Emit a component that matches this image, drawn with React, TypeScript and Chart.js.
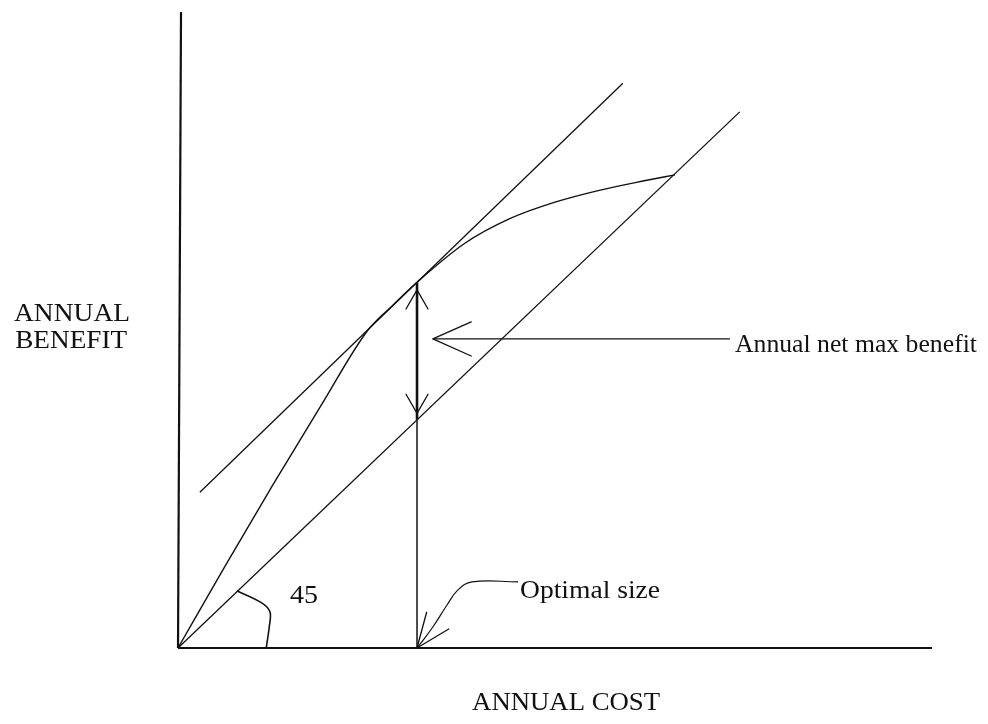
import { useEffect, useRef } from "react";
import { Chart, registerables } from "chart.js";

Chart.register(...registerables);

// ---- data (chart units: cost 0..100 on x, benefit 0..100 on y) ----
const benefitCurveCost = [0, 6.3, 12.6, 18.9, 25.2, 28.5, 31.7, 38, 44, 50, 56, 62, 65.9];
const benefitCurveBenefit = [0, 13.0, 25.7, 38.0, 50.0, 53.9, 57.5, 63.6, 67.5, 70.1, 72.0, 73.5, 74.4];

const diagonalCost = [0, 74.5];
const diagonalBenefit = [0, 84.3];

const tangentCost = [2.9, 59.0];
const tangentBenefit = [24.5, 88.8];

const optimalCost = 31.7;
const maxBenefitAtOptimum = 57.5;
const costLineAtOptimum = 35.9;

const yAxisCost = [0, 0.4];
const yAxisBenefit = [0, 100];
const xAxisCost = [0, 100];
const xAxisBenefit = [0, 0];

const netArrowCost = [33.8, 73.2];
const netArrowBenefit = [48.6, 48.6];
const netArrowHeadsBenefit = [56.3, 36.9];

const leaderCost = [45.1, 39.0, 37.1, 35.7, 33.8, 32.1, 31.7];
const leaderBenefit = [10.4, 10.4, 9.1, 6.8, 3.3, 0.6, 0];

const angleArcCost = [7.8, 11.1, 12.2, 12.1, 11.7];
const angleArcBenefit = [9.0, 7.1, 5.66, 3.3, 0];

const labelTexts = ["Annual net max benefit", "Optimal size", "45", "ANNUAL", "BENEFIT", "ANNUAL COST"];
const labelCost = [73.87, 45.36, 14.85, -21.75, -21.6, 39.0];
const labelBenefit = [46.54, 7.86, 7.08, 51.4, 47.2, -9.75];

// ---- layout / style (not data) ----
const W = 988;
const H = 724;
const labelWidths = [242, 140, 28, 116, 112, 188];
const FONT = '25px "Liberation Serif", "Times New Roman", serif';

const pts = (xs: number[], ys: number[]) => xs.map((x, i) => ({ x, y: ys[i] }));

const lineDs = (data: { x: number; y: number }[], width: number, extra: any = {}) => ({
  data,
  showLine: true,
  borderColor: "#111",
  backgroundColor: "#111",
  borderWidth: width,
  pointRadius: 0,
  pointHoverRadius: 0,
  fill: false,
  clip: false,
  ...extra,
});

const annotationPlugin = {
  id: "annotations",
  beforeDraw(chart: any) {
    const ctx = chart.ctx;
    ctx.save();
    ctx.fillStyle = "#fff";
    ctx.fillRect(0, 0, chart.width, chart.height);
    ctx.restore();
  },
  afterDatasetsDraw(chart: any) {
    const ctx = chart.ctx;
    const xs = chart.scales.x;
    const ys = chart.scales.y;
    const px = (v: number) => xs.getPixelForValue(v);
    const py = (v: number) => ys.getPixelForValue(v);

    const head = (tx: number, ty: number, fx: number, fy: number, len: number, half: number) => {
      const ang = Math.atan2(fy - ty, fx - tx);
      ctx.beginPath();
      for (const s of [-1, 1]) {
        ctx.moveTo(tx, ty);
        ctx.lineTo(tx + len * Math.cos(ang + s * half), ty + len * Math.sin(ang + s * half));
      }
      ctx.stroke();
    };

    ctx.save();
    ctx.strokeStyle = "#111";
    ctx.lineWidth = 1.3;
    ctx.lineCap = "round";
    const deg = Math.PI / 180;
    // double arrow on the net-benefit segment
    const ox = px(optimalCost);
    head(ox, py(netArrowHeadsBenefit[0]), ox, py(netArrowHeadsBenefit[1]), 22, 30 * deg);
    head(ox, py(netArrowHeadsBenefit[1]), ox, py(netArrowHeadsBenefit[0]), 22, 30 * deg);
    // horizontal pointer arrow
    head(px(netArrowCost[0]), py(netArrowBenefit[0]), px(netArrowCost[1]), py(netArrowBenefit[1]), 42, 24 * deg);
    // optimal size leader arrow
    const n = leaderCost.length;
    head(px(leaderCost[n - 1]), py(leaderBenefit[n - 1]), px(leaderCost[n - 3]), py(leaderBenefit[n - 3]), 37, 22 * deg);

    // labels
    ctx.fillStyle = "#111";
    ctx.font = FONT;
    ctx.textBaseline = "alphabetic";
    ctx.textAlign = "left";
    labelTexts.forEach((t, i) => {
      const w = ctx.measureText(t).width;
      const sx = labelWidths[i] / w;
      ctx.save();
      ctx.translate(px(labelCost[i]), py(labelBenefit[i]));
      ctx.scale(sx, 1);
      ctx.fillText(t, 0, 0);
      ctx.restore();
    });
    ctx.restore();
  },
};

export default function App() {
  const ref = useRef<HTMLCanvasElement>(null);
  useEffect(() => {
    const chart = new Chart(ref.current as HTMLCanvasElement, {
      type: "scatter",
      data: {
        datasets: [
          lineDs(pts(yAxisCost, yAxisBenefit), 2.2),
          lineDs(pts(xAxisCost, xAxisBenefit), 2.2),
          lineDs(pts(diagonalCost, diagonalBenefit), 1.3),
          lineDs(pts(tangentCost, tangentBenefit), 1.3),
          lineDs(pts(benefitCurveCost, benefitCurveBenefit), 1.4, { cubicInterpolationMode: "monotone" }),
          lineDs(pts([optimalCost, optimalCost], [0, costLineAtOptimum]), 1.5),
          lineDs(pts([optimalCost, optimalCost], [costLineAtOptimum, maxBenefitAtOptimum]), 2.6),
          lineDs(pts(netArrowCost, netArrowBenefit), 1.3),
          lineDs(pts(leaderCost, leaderBenefit), 1.2, { tension: 0.4 }),
          lineDs(pts(angleArcCost, angleArcBenefit), 1.6, { tension: 0.35 }),
        ] as any,
      },
      options: {
        responsive: false,
        animation: false,
        devicePixelRatio: 1,
        layout: { padding: { left: 178, right: 56, top: 12, bottom: 76 } },
        plugins: { legend: { display: false }, tooltip: { enabled: false } },
        events: [],
        scales: {
          x: { type: "linear", min: 0, max: 100, display: false },
          y: { type: "linear", min: 0, max: 100, display: false },
        },
      } as any,
      plugins: [annotationPlugin],
    });
    return () => chart.destroy();
  }, []);
  return (
    <div style={{ position: "absolute", left: 0, top: 0, width: W, height: H, background: "#fff" }}>
      <canvas ref={ref} width={W} height={H} style={{ width: W, height: H, display: "block" }} />
    </div>
  );
}
